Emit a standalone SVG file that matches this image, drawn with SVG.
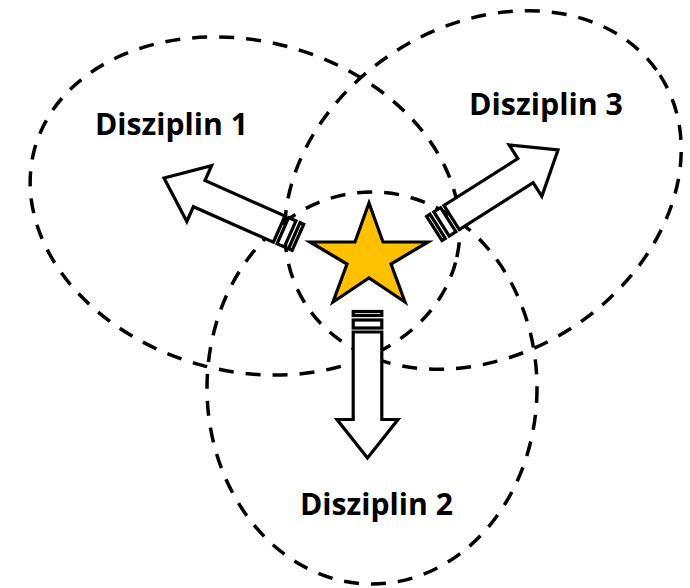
<svg xmlns="http://www.w3.org/2000/svg" xmlns:xlink="http://www.w3.org/1999/xlink" width="690" height="588" viewBox="0 0 690 588">
<style>
.ring{fill:none;stroke:#000;stroke-width:3.5;stroke-dasharray:15 12}
.lbl{font-family:"Open Sans","Liberation Sans",sans-serif;font-weight:700;font-size:31px;fill:#000}
.arr{fill:#fff;stroke:#000;stroke-width:3.2;stroke-linejoin:miter}
.star{fill:#FFC000;stroke:#000;stroke-width:3.2;stroke-linejoin:miter}
</style>
<defs>
<g id="arrow">
<polygon class="arr" points="0,0 -30.5,-38.5 -14.3,-38.5 -14.3,-126 14.3,-126 14.3,-38.5 30.5,-38.5"/>
<rect class="arr" x="-14.3" y="-138" width="28.6" height="8"/>
<rect class="arr" x="-14.3" y="-146.5" width="28.6" height="4"/>
</g>
</defs>
<rect width="690" height="588" fill="#fff"/>
<g id="disziplin1">
<ellipse class="ring" cx="245" cy="206" rx="218" ry="165" transform="rotate(15 245 206)"/>
<text class="lbl" x="95" y="135" textLength="153" lengthAdjust="spacingAndGlyphs">Disziplin 1</text>
</g>
<g id="disziplin2">
<ellipse class="ring" cx="372" cy="388" rx="165" ry="196"/>
<text class="lbl" x="300" y="515" textLength="153" lengthAdjust="spacingAndGlyphs">Disziplin 2</text>
</g>
<g id="disziplin3">
<ellipse class="ring" cx="483" cy="190" rx="211" ry="164" transform="rotate(-33 483 190)"/>
<text class="lbl" x="469" y="115" textLength="154" lengthAdjust="spacingAndGlyphs">Disziplin 3</text>
</g>
<g id="connectors">
<use xlink:href="#arrow" href="#arrow" transform="translate(164 178) rotate(113.9)"/>
<use xlink:href="#arrow" href="#arrow" transform="translate(558 150) rotate(-122.4)"/>
<use xlink:href="#arrow" href="#arrow" transform="translate(367.5 458)"/>
</g>
<g id="star">
<polygon class="star" points="369,203 383,242 428,242 391,264 405,302 369,278 333,302 347,264 310,242 355,242"/>
</g>
</svg>
